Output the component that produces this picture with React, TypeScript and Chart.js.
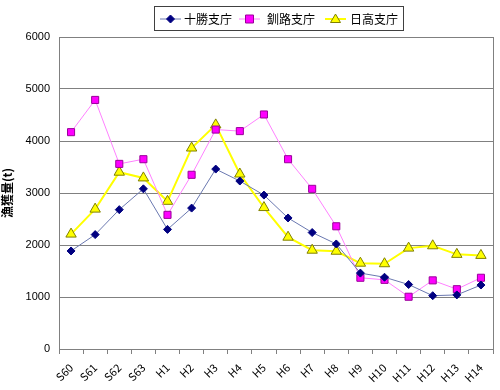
import React, { useEffect, useRef } from "react";
import { Chart, registerables } from "chart.js";

Chart.register(...registerables);

const categories = ["S60", "S61", "S62", "S63", "H1", "H2", "H3", "H4", "H5", "H6", "H7", "H8", "H9", "H10", "H11", "H12", "H13", "H14"];
const tokachi = [1885, 2200, 2680, 3080, 2300, 2710, 3460, 3230, 2960, 2520, 2240, 2020, 1460, 1380, 1240, 1025, 1040, 1230];
const kushiro = [4170, 4790, 3560, 3650, 2580, 3350, 4220, 4190, 4510, 3650, 3080, 2360, 1370, 1330, 1005, 1320, 1150, 1370];
const hidaka = [2210, 2690, 3400, 3290, 2840, 3865, 4310, 3365, 2720, 2150, 1900, 1880, 1650, 1640, 1940, 1985, 1820, 1800];
const seriesNames = ["十勝支庁", "釧路支庁", "日高支庁"];
const yTicks = [0, 1000, 2000, 3000, 4000, 5000, 6000];
const yTitle = "漁獲量(t)";

const FONT = "'Noto Sans CJK JP', 'Liberation Sans', sans-serif";

const styles = [
  { line: "#6a78b0", lineWidth: 1, fill: "#000080", border: "#000080", style: "rectRot", radius: 4 },
  { line: "#ff80ff", lineWidth: 1, fill: "#ff00ff", border: "#990099", style: "rect", radius: 5 },
  { line: "#ffff00", lineWidth: 2, fill: "#ffff00", border: "#808000", style: "triangle", radius: 6 },
];

function marker(ctx: CanvasRenderingContext2D, style: string, cx: number, cy: number, r: number) {
  ctx.beginPath();
  if (style === "rectRot") {
    ctx.moveTo(cx, cy - r);
    ctx.lineTo(cx + r, cy);
    ctx.lineTo(cx, cy + r);
    ctx.lineTo(cx - r, cy);
  } else if (style === "rect") {
    ctx.rect(cx - r, cy - r, 2 * r, 2 * r);
  } else {
    ctx.moveTo(cx, cy - r);
    ctx.lineTo(cx + r, cy + r * 0.7);
    ctx.lineTo(cx - r, cy + r * 0.7);
  }
  ctx.closePath();
  ctx.fill();
  ctx.stroke();
}

const frameAndLegend = {
  id: "frameAndLegend",
  afterDraw(chart: any) {
    const ctx = chart.ctx;
    const a = chart.chartArea;
    ctx.save();
    ctx.strokeStyle = "#808080";
    ctx.lineWidth = 1;
    ctx.beginPath();
    ctx.moveTo(Math.round(a.right) + 0.5, a.top);
    ctx.lineTo(Math.round(a.right) + 0.5, a.bottom);
    ctx.stroke();
    ctx.strokeStyle = "#404040";
    ctx.strokeRect(154.5, 6.5, 249, 24);
    const items = [
      { x0: 160, text: 184 },
      { x0: 239, text: 267 },
      { x0: 325, text: 350 },
    ];
    const cy = 19;
    items.forEach((it, i) => {
      const s = styles[i];
      ctx.strokeStyle = s.line;
      ctx.lineWidth = s.lineWidth;
      ctx.beginPath();
      ctx.moveTo(it.x0, cy);
      ctx.lineTo(it.x0 + 21, cy);
      ctx.stroke();
      ctx.fillStyle = s.fill;
      ctx.strokeStyle = s.border;
      ctx.lineWidth = 1;
      marker(ctx, s.style, it.x0 + 10.5, cy, s.style === "triangle" ? 5 : 4);
      ctx.fillStyle = "#000";
      ctx.font = `12px ${FONT}`;
      ctx.textBaseline = "middle";
      ctx.textAlign = "left";
      ctx.fillText(seriesNames[i], it.text, cy);
    });
    ctx.restore();
  },
};

export default function App() {
  const ref = useRef<HTMLCanvasElement>(null);
  useEffect(() => {
    const datasets = [tokachi, kushiro, hidaka].map((d, i) => ({
      label: seriesNames[i],
      data: d,
      borderColor: styles[i].line,
      borderWidth: styles[i].lineWidth,
      pointStyle: styles[i].style,
      pointRadius: styles[i].radius,
      pointBackgroundColor: styles[i].fill,
      pointBorderColor: styles[i].border,
      pointBorderWidth: 1,
      tension: 0,
      fill: false,
    }));
    const chart = new Chart(ref.current!, {
      type: "line",
      data: { labels: categories, datasets },
      options: {
        animation: false,
        responsive: false,
        layout: { padding: { top: 37, right: 7, left: 0, bottom: 0 } },
        plugins: { legend: { display: false }, tooltip: { enabled: false } },
        scales: {
          x: {
            offset: true,
            afterFit: (s: any) => { s.height = 41; },
            grid: { offset: true, drawOnChartArea: false, drawTicks: true, tickLength: 5, color: "#808080" },
            border: { color: "#808080" },
            ticks: { minRotation: 45, maxRotation: 45, color: "#000", font: { size: 11, family: FONT }, padding: 7, autoSkip: false },
          },
          y: {
            min: 0,
            max: 6000,
            afterBuildTicks: (s: any) => { s.ticks = yTicks.map((v) => ({ value: v })); },
            afterFit: (s: any) => { s.width = 59; },
            grid: { color: "#808080", drawTicks: false },
            border: { color: "#808080" },
            ticks: { color: "#000", font: { size: 11, family: "'Liberation Sans', sans-serif" }, padding: 9, callback: (v: any) => String(v) },
            title: { display: true, text: yTitle, color: "#000", font: { size: 12, weight: "bold", family: FONT }, padding: { top: 0, bottom: 6 } },
          },
        },
      },
      plugins: [frameAndLegend],
    } as any);
    return () => chart.destroy();
  }, []);
  return (
    <div style={{ position: "fixed", left: 0, top: 0, width: 500, height: 390, background: "#fff" }}>
      <canvas ref={ref} width={500} height={390} />
    </div>
  );
}
